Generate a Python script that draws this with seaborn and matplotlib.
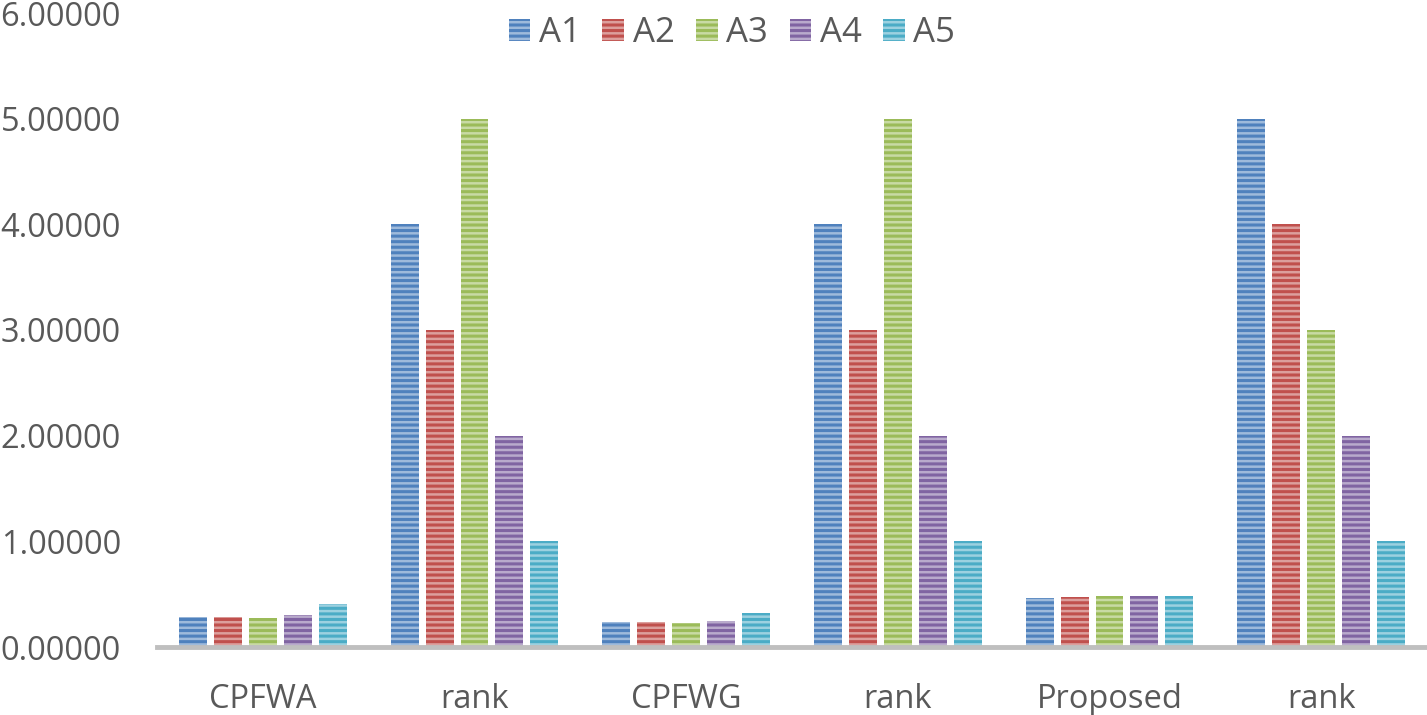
import numpy as np
import pandas as pd
import matplotlib
matplotlib.use("Agg")
import matplotlib.pyplot as plt
import matplotlib.colors as mcolors
from matplotlib.patches import Patch
import seaborn as sns

# ---- data ----
group_labels = ["CPFWA", "rank", "CPFWG", "rank", "Proposed", "rank"]
series = ["A1", "A2", "A3", "A4", "A5"]
cpfwa = [0.285, 0.287, 0.275, 0.304, 0.408]
rank1 = [4, 3, 5, 2, 1]
cpfwg = [0.237, 0.237, 0.228, 0.247, 0.323]
rank2 = [4, 3, 5, 2, 1]
proposed = [0.465, 0.474, 0.484, 0.484, 0.484]
rank3 = [5, 4, 3, 2, 1]
y_ticks = [0, 1, 2, 3, 4, 5, 6]

colors = ["#4F81BD", "#C0504D", "#9BBB59", "#8064A2", "#4BACC6"]

groups = [cpfwa, rank1, cpfwg, rank2, proposed, rank3]
rows = []
for gi, vals in enumerate(groups):
    for s, v in zip(series, vals):
        rows.append({"group": f"g{gi}", "series": s, "value": v})
df = pd.DataFrame(rows)
order = [f"g{i}" for i in range(len(groups))]

sns.set_theme(style="white")
plt.rcParams["font.family"] = ["Open Sans", "DejaVu Sans"]
plt.rcParams["hatch.linewidth"] = 2.2

def lighten(c, f=0.5):
    r, g, b = mcolors.to_rgb(c)
    return (r + (1 - r) * f, g + (1 - g) * f, b + (1 - b) * f)

light = [lighten(c, 0.45) for c in colors]

fig = plt.figure(figsize=(14.27, 7.15), dpi=100)
ax = fig.add_axes([157 / 1427, 1 - 647 / 715, 1 - 157 / 1427, (647 - 13) / 715])

sns.barplot(data=df, x="group", y="value", hue="series", order=order,
            hue_order=series, palette=light, width=0.825, gap=0.2,
            ax=ax, legend=False, errorbar=None, saturation=1)

for i, cont in enumerate(ax.containers):
    for p in cont:
        p.set_edgecolor(colors[i])
        p.set_linewidth(0)
        p.set_hatch("---")

ax.set_xlim(-0.5, 5.5)
ax.set_ylim(0, 6)
ax.set_yticks(y_ticks)
ax.set_yticklabels([f"{t:.5f}" for t in y_ticks])
ax.set_xticks(range(len(group_labels)))
ax.set_xticklabels(group_labels)
ax.set_xlabel("")
ax.set_ylabel("")
ax.tick_params(axis="both", length=0, labelsize=23.5, colors="#595959")
ax.tick_params(axis="y", pad=26)
ax.tick_params(axis="x", pad=26)

for s in ["top", "right", "left"]:
    ax.spines[s].set_visible(False)
ax.spines["bottom"].set_color("#BFBFBF")
ax.spines["bottom"].set_linewidth(3.5)

handles = [Patch(facecolor=light[i], edgecolor=colors[i], linewidth=0, hatch="---")
           for i in range(len(series))]
fig.legend(handles, series, loc="center", bbox_to_anchor=(732 / 1427, 1 - 33 / 715), ncol=5,
           frameon=False, fontsize=25, labelcolor="#595959",
           handlelength=0.62, handleheight=0.62, handletextpad=0.25, columnspacing=0.62)

fig.savefig("out.png", dpi=100)
